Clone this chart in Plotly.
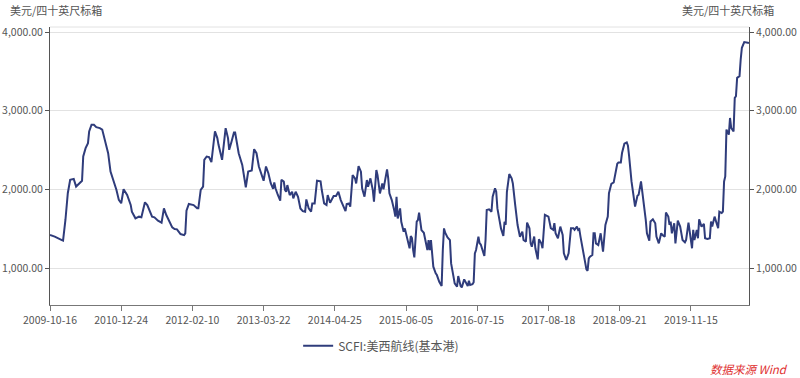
import plotly.graph_objects as go

# week index since 2009-10-16 (category position) and SCFI value
weeks = [0, 4, 10, 11, 13, 15, 17, 20, 22, 25, 27, 28, 30, 32, 33, 35, 37, 39, 42, 44,
         46, 49, 51, 53, 56, 58, 60, 62, 65, 68, 69, 72, 75, 77, 80, 82, 84, 86, 88, 91,
         94, 96, 98, 100, 103, 105, 107, 110, 113, 114, 115, 117, 121, 124, 125, 127, 129, 130, 132, 134,
         136, 138, 139, 141, 142, 145, 146, 148, 150, 151, 153, 155, 156, 158, 159, 162, 164, 165, 167, 170,
         172, 174, 176, 179, 180, 182, 184, 186, 188, 189, 190, 192, 194, 195, 197, 198,
         199, 200, 202, 204, 205, 207, 209, 211, 213, 215, 216, 218, 220, 221, 223, 225, 228, 229, 231, 233,
         234, 236, 238, 239, 241, 243, 245, 247, 249, 250, 252, 253, 255, 257, 258, 260, 262, 263, 265, 267,
         268, 270, 272, 273, 275, 276, 278, 280, 281, 284, 285, 286, 288, 290, 291, 292, 293, 295, 296, 298,
         299, 301, 303, 304, 305, 306, 307, 309, 310, 311, 313, 315, 316, 318, 319, 320, 321, 322, 323, 325,
         326, 328, 330, 331, 332, 333, 335, 337, 338, 340, 341, 343, 344, 346, 347, 349, 350, 352, 353, 354,
         356, 357, 358, 359, 361, 362, 363, 366, 367, 368, 370, 372, 373, 375, 376, 377, 380, 382, 383, 384,
         385, 387, 389, 390, 392, 394, 396,
         398, 399, 401, 402, 404, 405, 406, 408, 409, 411, 412, 414, 415, 417, 419, 420, 422, 424, 425, 426,
         428, 430, 432, 433, 435, 436, 437, 439, 441, 442, 444, 445, 446, 447, 449, 450, 452, 453, 454, 455,
         457, 458, 459, 460, 462, 464, 465, 466, 468, 469, 470, 471, 473, 475, 476, 478, 479, 481, 482, 484,
         486, 487, 488, 489, 490, 491, 493, 495, 496, 498, 499, 500, 502, 503, 505, 506, 508, 510, 511, 513,
         515, 516, 518, 519, 521, 522, 523, 524, 526, 527, 529, 531, 533, 535, 536, 538, 539, 541, 542, 543,
         545, 546, 547, 549, 551, 552, 554, 556, 557, 558, 560, 561, 563, 564, 566, 567, 568, 569, 570, 572,
         573, 574, 576, 577, 578, 579, 581, 582, 583, 585, 587, 588, 589]

values = [1420, 1400, 1356, 1350, 1611, 1951, 2121, 2134, 2036, 2078, 2110, 2418, 2524, 2588, 2737, 2822, 2822, 2792, 2779, 2760,
          2652, 2460, 2227, 2142, 1993, 1866, 1824, 2002, 1929, 1803, 1717, 1632, 1653, 1645, 1836, 1801, 1729, 1653, 1645, 1602,
          1576, 1759, 1674, 1610, 1517, 1496, 1492, 1432, 1419, 1440, 1729, 1814, 1801, 1759, 1759, 1993, 2036, 2376, 2418, 2410,
          2346, 2609, 2737, 2652, 2567, 2376, 2524, 2779, 2652, 2503, 2610, 2724, 2724, 2546, 2460, 2312, 2099, 2027, 2227, 2240,
          2512, 2460, 2291, 2129, 2110, 2291, 2206, 2078, 2006, 2087, 2015, 1929, 1857, 2121, 2100, 1993,
          1970, 2055, 1928, 1970, 1886, 1970, 1907, 1758, 1724, 1716, 1873, 1758, 1716, 1822, 1822, 2110, 2102, 1992, 1822, 1801,
          1928, 1831, 1886, 1915, 1915, 1970, 1864, 1780, 1724, 1814, 1822, 1780, 2182, 2140, 2076, 2297, 2225, 2013, 1907, 2119,
          2034, 2140, 1992, 1843, 2246, 2182, 1949, 2076, 2000, 2254, 2140, 1949, 1864, 1737, 1653, 1907, 1631, 1758, 1589, 1462,
          1504, 1377, 1250, 1407, 1380, 1229, 1136, 1589, 1610, 1703, 1483, 1449, 1356, 1229, 1356, 1229, 1356, 1153, 1017, 932,
          911, 826, 771, 1229, 1504, 1449, 1390, 1356, 1059, 890, 805, 763, 898, 771, 754, 856, 830, 771, 839, 784,
          795, 820, 1186, 1229, 1398, 1314, 1300, 1153, 1356, 1737, 1746, 1716, 1907, 2013, 1970, 1758, 1504, 1407, 1589, 1550,
          1970, 2195, 2140, 2076, 1801, 1547, 1398,
          1463, 1357, 1336, 1578, 1506, 1314, 1272, 1400, 1251, 1110, 1365, 1314, 1251, 1676, 1663, 1654, 1506, 1485, 1570, 1442,
          1378, 1527, 1421, 1187, 1102, 1145, 1187, 1506, 1506, 1485, 1527, 1485, 1495, 1400, 1230, 1102, 983, 966, 1123, 1145,
          1166, 1442, 1442, 1314, 1293, 1442, 1314, 1208, 1548, 1612, 1654, 1952, 2071, 2088, 2165, 2326, 2343, 2343, 2462, 2581,
          2598, 2556, 2420, 2207, 2101, 1995, 1782, 1918, 1931, 2101, 1995, 1825, 1612, 1442, 1349, 1591, 1620, 1570, 1400, 1314,
          1442, 1421, 1400, 1705, 1654, 1548, 1590, 1442, 1570, 1314, 1604, 1527, 1357, 1327, 1357, 1578, 1442, 1251, 1485, 1357,
          1485, 1378, 1620, 1527, 1561, 1378, 1370, 1378, 1591, 1527, 1654, 1591, 1506, 1718, 1700, 1718, 2101, 2165, 2760, 2696,
          2908, 2781, 2738, 3163, 3185, 3418, 3440, 3652, 3801, 3873, 3873, 3865, 3860]

tick_weeks = [0, 60, 120, 180, 240, 300, 360, 420, 480, 540]
tick_labels = ["2009-10-16", "2010-12-24", "2012-02-10", "2013-03-22", "2014-04-25",
               "2015-06-05", "2016-07-15", "2017-08-18", "2018-09-21", "2019-11-15"]
y_ticks = [1000, 2000, 3000, 4000]
y_tick_labels = ["1,000.00", "2,000.00", "3,000.00", "4,000.00"]
series_name = "SCFI:美西航线(基本港)"
unit_label = "美元/四十英尺标箱"
source_label = "数据来源 Wind"

FONT = "Noto Sans CJK SC, Open Sans, sans-serif"
LINE_COLOR = "#2f3c7b"
Y_RANGE = [530, 4065]

fig = go.Figure()
fig.add_trace(go.Scatter(x=weeks, y=values, mode="lines", name=series_name,
                         line=dict(color=LINE_COLOR, width=2)))
fig.add_trace(go.Scatter(x=weeks, y=values, mode="lines", yaxis="y2", showlegend=False,
                         hoverinfo="skip", line=dict(color="rgba(0,0,0,0)", width=0)))

axis_font = dict(family=FONT, size=10.5, color="#555")

fig.update_layout(
    width=800, height=378,
    margin=dict(l=50, r=51, t=27, b=73, autoexpand=False),
    paper_bgcolor="white", plot_bgcolor="white",
    font=dict(family=FONT, size=11, color="#555"),
    showlegend=True,
    legend=dict(orientation="h", x=0.355, xanchor="left", y=-0.147, yanchor="middle",
                font=dict(family=FONT, size=12, color="#555"), itemwidth=30,
                bgcolor="rgba(0,0,0,0)"),
    xaxis=dict(range=[0, 589], tickmode="array", tickvals=tick_weeks, ticktext=tick_labels,
               ticks="outside", ticklen=5, tickcolor="#777", showline=True, linecolor="#777",
               linewidth=1, showgrid=False, zeroline=False, tickfont=axis_font, automargin=False),
    yaxis=dict(range=Y_RANGE, tickmode="array", tickvals=y_ticks, ticktext=y_tick_labels,
               ticks="outside", ticklen=4, tickcolor="#555", showline=True, linecolor="#555",
               linewidth=1, showgrid=True, gridcolor="#e2e2e2", zeroline=False, tickfont=axis_font,
               automargin=False),
    yaxis2=dict(range=Y_RANGE, overlaying="y", side="right", tickmode="array", tickvals=y_ticks,
                ticktext=y_tick_labels, ticks="outside", ticklen=4, tickcolor="#555",
                showline=True, linecolor="#555", linewidth=1, showgrid=False, zeroline=False,
                tickfont=axis_font, automargin=False),
    shapes=[dict(type="line", xref="paper", yref="paper", x0=0, x1=1, y0=1, y1=1,
                 line=dict(color="#e2e2e2", width=1))],
    annotations=[
        dict(text=unit_label, xref="paper", yref="paper", x=-0.060, y=1.061, xanchor="left",
             yanchor="middle", showarrow=False, font=dict(family=FONT, size=11, color="#555")),
        dict(text=unit_label, xref="paper", yref="paper", x=1.0386, y=1.061, xanchor="right",
             yanchor="middle", showarrow=False, font=dict(family=FONT, size=11, color="#555")),
        dict(text="<i>" + source_label + "</i>", xref="paper", yref="paper", x=1.0587, y=-0.230,
             xanchor="right", yanchor="middle", showarrow=False,
             font=dict(family=FONT, size=11.5, color="#e03030")),
    ],
)

# remove the page's default body margin so the figure starts at the window corner
fig.write_html("out.html", config={"displayModeBar": False},
               post_script="document.body.style.margin='0';")
